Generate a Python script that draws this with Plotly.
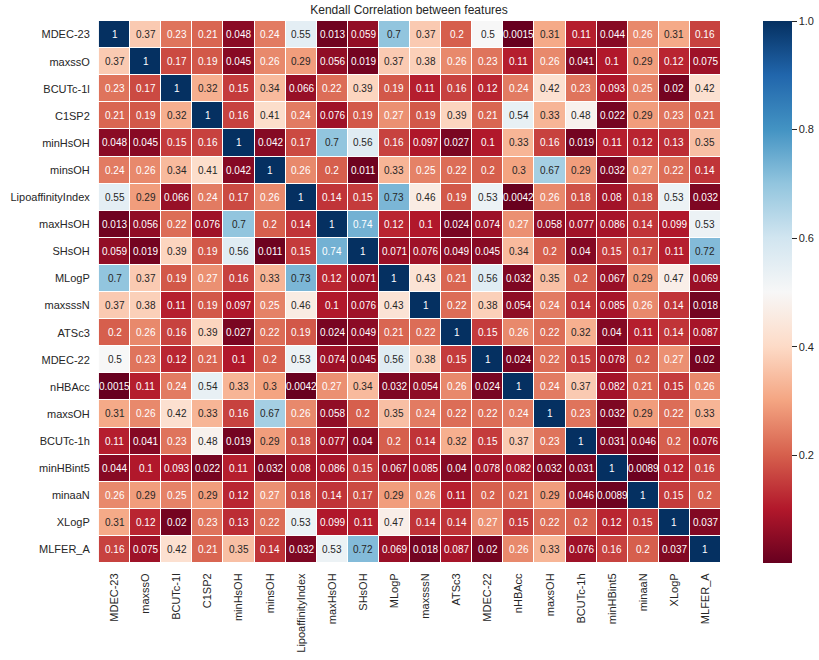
import plotly.graph_objects as go
import numpy as np

labels = ["MDEC-23", "maxssO", "BCUTc-1l", "C1SP2", "minHsOH", "minsOH", "LipoaffinityIndex",
          "maxHsOH", "SHsOH", "MLogP", "maxsssN", "ATSc3", "MDEC-22", "nHBAcc", "maxsOH",
          "BCUTc-1h", "minHBint5", "minaaN", "XLogP", "MLFER_A"]

r_MDEC23 = [1, 0.37, 0.23, 0.21, 0.048, 0.24, 0.55, 0.013, 0.059, 0.7, 0.37, 0.2, 0.5, 0.0015, 0.31, 0.11, 0.044, 0.26, 0.31, 0.16]
r_maxssO = [0.37, 1, 0.17, 0.19, 0.045, 0.26, 0.29, 0.056, 0.019, 0.37, 0.38, 0.26, 0.23, 0.11, 0.26, 0.041, 0.1, 0.29, 0.12, 0.075]
r_BCUTc1l = [0.23, 0.17, 1, 0.32, 0.15, 0.34, 0.066, 0.22, 0.39, 0.19, 0.11, 0.16, 0.12, 0.24, 0.42, 0.23, 0.093, 0.25, 0.02, 0.42]
r_C1SP2 = [0.21, 0.19, 0.32, 1, 0.16, 0.41, 0.24, 0.076, 0.19, 0.27, 0.19, 0.39, 0.21, 0.54, 0.33, 0.48, 0.022, 0.29, 0.23, 0.21]
r_minHsOH = [0.048, 0.045, 0.15, 0.16, 1, 0.042, 0.17, 0.7, 0.56, 0.16, 0.097, 0.027, 0.1, 0.33, 0.16, 0.019, 0.11, 0.12, 0.13, 0.35]
r_minsOH = [0.24, 0.26, 0.34, 0.41, 0.042, 1, 0.26, 0.2, 0.011, 0.33, 0.25, 0.22, 0.2, 0.3, 0.67, 0.29, 0.032, 0.27, 0.22, 0.14]
r_Lipo = [0.55, 0.29, 0.066, 0.24, 0.17, 0.26, 1, 0.14, 0.15, 0.73, 0.46, 0.19, 0.53, 0.0042, 0.26, 0.18, 0.08, 0.18, 0.53, 0.032]
r_maxHsOH = [0.013, 0.056, 0.22, 0.076, 0.7, 0.2, 0.14, 1, 0.74, 0.12, 0.1, 0.024, 0.074, 0.27, 0.058, 0.077, 0.086, 0.14, 0.099, 0.53]
r_SHsOH = [0.059, 0.019, 0.39, 0.19, 0.56, 0.011, 0.15, 0.74, 1, 0.071, 0.076, 0.049, 0.045, 0.34, 0.2, 0.04, 0.15, 0.17, 0.11, 0.72]
r_MLogP = [0.7, 0.37, 0.19, 0.27, 0.16, 0.33, 0.73, 0.12, 0.071, 1, 0.43, 0.21, 0.56, 0.032, 0.35, 0.2, 0.067, 0.29, 0.47, 0.069]
r_maxsssN = [0.37, 0.38, 0.11, 0.19, 0.097, 0.25, 0.46, 0.1, 0.076, 0.43, 1, 0.22, 0.38, 0.054, 0.24, 0.14, 0.085, 0.26, 0.14, 0.018]
r_ATSc3 = [0.2, 0.26, 0.16, 0.39, 0.027, 0.22, 0.19, 0.024, 0.049, 0.21, 0.22, 1, 0.15, 0.26, 0.22, 0.32, 0.04, 0.11, 0.14, 0.087]
r_MDEC22 = [0.5, 0.23, 0.12, 0.21, 0.1, 0.2, 0.53, 0.074, 0.045, 0.56, 0.38, 0.15, 1, 0.024, 0.22, 0.15, 0.078, 0.2, 0.27, 0.02]
r_nHBAcc = [0.0015, 0.11, 0.24, 0.54, 0.33, 0.3, 0.0042, 0.27, 0.34, 0.032, 0.054, 0.26, 0.024, 1, 0.24, 0.37, 0.082, 0.21, 0.15, 0.26]
r_maxsOH = [0.31, 0.26, 0.42, 0.33, 0.16, 0.67, 0.26, 0.058, 0.2, 0.35, 0.24, 0.22, 0.22, 0.24, 1, 0.23, 0.032, 0.29, 0.22, 0.33]
r_BCUTc1h = [0.11, 0.041, 0.23, 0.48, 0.019, 0.29, 0.18, 0.077, 0.04, 0.2, 0.14, 0.32, 0.15, 0.37, 0.23, 1, 0.031, 0.046, 0.2, 0.076]
r_minHBint5 = [0.044, 0.1, 0.093, 0.022, 0.11, 0.032, 0.08, 0.086, 0.15, 0.067, 0.085, 0.04, 0.078, 0.082, 0.032, 0.031, 1, 0.0089, 0.12, 0.16]
r_minaaN = [0.26, 0.29, 0.25, 0.29, 0.12, 0.27, 0.18, 0.14, 0.17, 0.29, 0.26, 0.11, 0.2, 0.21, 0.29, 0.046, 0.0089, 1, 0.15, 0.2]
r_XLogP = [0.31, 0.12, 0.02, 0.23, 0.13, 0.22, 0.53, 0.099, 0.11, 0.47, 0.14, 0.14, 0.27, 0.15, 0.22, 0.2, 0.12, 0.15, 1, 0.037]
r_MLFER_A = [0.16, 0.075, 0.42, 0.21, 0.35, 0.14, 0.032, 0.53, 0.72, 0.069, 0.018, 0.087, 0.02, 0.26, 0.33, 0.076, 0.16, 0.2, 0.037, 1]

z = [r_MDEC23, r_maxssO, r_BCUTc1l, r_C1SP2, r_minHsOH, r_minsOH, r_Lipo, r_maxHsOH, r_SHsOH,
     r_MLogP, r_maxsssN, r_ATSc3, r_MDEC22, r_nHBAcc, r_maxsOH, r_BCUTc1h, r_minHBint5,
     r_minaaN, r_XLogP, r_MLFER_A]

cbar_ticks = [0.2, 0.4, 0.6, 0.8, 1.0]

# matplotlib RdBu (ColorBrewer 11 class)
rdbu = [(103, 0, 31), (178, 24, 43), (214, 96, 77), (244, 165, 130), (253, 219, 199),
        (247, 247, 247), (209, 229, 240), (146, 197, 222), (67, 147, 195), (33, 102, 172), (5, 48, 97)]
colorscale = [[i / 10, "rgb(%d,%d,%d)" % c] for i, c in enumerate(rdbu)]

zarr = np.array(z, dtype=float)
vmin, vmax = zarr.min(), zarr.max()


def cmap(t):
    t = min(max(t, 0), 1) * 10
    i = min(int(t), 9)
    f = t - i
    a, b = np.array(rdbu[i]), np.array(rdbu[i + 1])
    return (a + (b - a) * f) / 255.0


def lum(rgb):
    rgb = np.where(rgb <= 0.03928, rgb / 12.92, ((rgb + 0.055) / 1.055) ** 2.4)
    return rgb.dot([0.2126, 0.7152, 0.0722])


def fmt(v):
    return ("%.2g" % v)


fig = go.Figure()
fig.add_trace(go.Heatmap(
    z=z, x=labels, y=labels, colorscale=colorscale, zmin=vmin, zmax=vmax,
    xgap=1, ygap=1,
    colorbar=dict(
        x=1.067, xanchor="left", y=0.5, yanchor="middle", len=1, lenmode="fraction",
        thickness=29, xpad=0, ypad=0, outlinewidth=0,
        tickvals=cbar_ticks, ticktext=["%.1f" % t for t in cbar_ticks],
        ticks="outside", ticklen=5, tickwidth=1, tickcolor="#262626",
        tickfont=dict(family="Liberation Sans, Arial", size=11, color="#262626"),
    ),
    hovertemplate="%{y} / %{x}: %{z}<extra></extra>",
))

annotations = []
for i, row in enumerate(z):
    for j, v in enumerate(row):
        c = cmap((v - vmin) / (vmax - vmin))
        color = "#262626" if lum(c) > 0.408 else "#ffffff"
        annotations.append(dict(
            x=labels[j], y=labels[i], text=fmt(v), showarrow=False,
            font=dict(family="Liberation Sans, Arial", size=10, color=color),
        ))

fig.update_layout(
    width=819, height=660,
    margin=dict(l=97, r=98, t=21, b=97, autoexpand=False),
    paper_bgcolor="white", plot_bgcolor="white",
    title=dict(text="Kendall Correlation between features", x=0.5, xanchor="center",
               xref="paper", y=1 - 10 / 660, yanchor="middle",
               font=dict(family="Liberation Sans, Arial", size=12, color="#262626")),
    annotations=annotations,
    font=dict(family="Liberation Sans, Arial", color="#262626"),
)
fig.update_xaxes(tickangle=-90, ticks="outside", ticklen=5, tickcolor="rgba(0,0,0,0)",
                 automargin=False,
                 tickfont=dict(size=11, color="#262626"), showgrid=False, zeroline=False)
fig.update_yaxes(autorange="reversed", ticks="outside", ticklen=4, tickcolor="rgba(0,0,0,0)",
                 automargin=False,
                 tickfont=dict(size=11, color="#262626"), showgrid=False, zeroline=False)

fig.write_html("out.html", config={"displayModeBar": False},
               post_script="document.body.style.margin='0px';")
